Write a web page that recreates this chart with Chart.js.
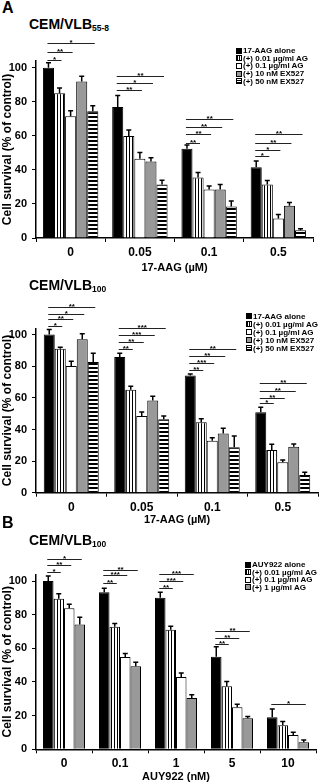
<!DOCTYPE html>
<html>
<head>
<meta charset="utf-8">
<script src="https://cdn.jsdelivr.net/npm/chart.js@4.4.0/dist/chart.umd.min.js"></script>
<style>
body { margin: 0; width: 320px; height: 784px; position: relative; background: #fff; overflow: hidden;
  font-family: 'Liberation Sans', Arial, sans-serif; font-weight: bold; color: #000; }
.box { position: absolute; left: 0; width: 320px; }
canvas { display: block; }
.txt { position: absolute; white-space: nowrap; line-height: 1; }
.panel { font-size: 16px; }
.title { font-size: 14px; }
.title span { font-size: 8.5px; vertical-align: -2px; }
.legend { position: absolute; font-size: 8px; }
.legend .row { display: flex; align-items: center; white-space: nowrap; }
.sw { width: 6px; height: 6px; box-sizing: border-box; border: 1px solid #000; margin-right: 1px; }
.sw.k { background: #000; }
.sw.v { background: repeating-linear-gradient(90deg, #000 0 1px, #fff 1px 2px); }
.sw.w { background: #fff; }
.sw.g { background: #999; }
.sw.h { background: repeating-linear-gradient(0deg, #000 0 1px, #fff 1px 2px); }
</style>
</head>
<body>
<div class="txt panel" style="left:2px;top:0px">A</div>
<div class="txt title" style="left:29px;top:17px">CEM/VLB<span>55-8</span></div>
<div class="box" style="top:0;height:280px"><canvas id="c1" width="320" height="280"></canvas></div>
<div class="legend" id="leg1" style="left:236px;top:47px"></div>

<div class="txt title" style="left:29px;top:278px">CEM/VLB<span>100</span></div>
<div class="box" style="top:275px;height:255px"><canvas id="c2" width="320" height="255"></canvas></div>
<div class="legend" id="leg2" style="left:246px;top:312px"></div>

<div class="txt panel" style="left:2px;top:515px">B</div>
<div class="txt title" style="left:29px;top:533px">CEM/VLB<span>100</span></div>
<div class="box" style="top:530px;height:254px"><canvas id="c3" width="320" height="254"></canvas></div>
<div class="legend" id="leg3" style="left:245px;top:561px"></div>

<script>
// categories
const doseAAG = ['0', '0.05', '0.1', '0.5'];
const doseAUY = ['0', '0.1', '1', '5', '10'];
const seriesAAG = ['17-AAG alone', '(+) 0.01 µg/ml AG', '(+) 0.1 µg/ml AG', '(+) 10 nM EX527', '(+) 50 nM EX527'];
const seriesAUY = ['AUY922 alone', '(+) 0.01 µg/ml AG', '(+) 0.1 µg/ml AG', '(+) 1 µg/ml AG'];
const yTicks = [0, 20, 40, 60, 80, 100];

// CEM/VLB55-8, 17-AAG
const vlb55Alone = [100, 77, 52.5, 41.5];
const vlb55Ag001 = [85, 60, 35.5, 31.5];
const vlb55Ag01 = [71.5, 46.5, 28.5, 11.5];
const vlb55Ex10 = [92, 45, 28.5, 19];
const vlb55Ex50 = [74.5, 31.5, 18.5, 4.5];
const vlb55AloneErr = [3, 6.8, 2.2, 3.8];
const vlb55Ag001Err = [3.2, 3.5, 3, 2.3];
const vlb55Ag01Err = [3.3, 3.7, 2, 2.3];
const vlb55Ex10Err = [3, 2.2, 3, 1.9];
const vlb55Ex50Err = [3.2, 2.5, 3.3, 1];
// [dose index, compared series, bracket level, stars]
const vlb55Sig = [
  [0, 1, 104.3, '*'], [0, 2, 109, '**'], [0, 4, 114.3, '*'],
  [1, 2, 87.2, '**'], [1, 3, 91.1, '*'], [1, 4, 95, '**'],
  [2, 1, 56, '**'], [2, 2, 61, '**'], [2, 3, 65.5, '**'], [2, 4, 70, '**'],
  [3, 1, 48.4, '*'], [3, 2, 51.8, '*'], [3, 3, 55.7, '**'], [3, 4, 61, '**']
];

// CEM/VLB100, 17-AAG
const vlb100Alone = [100, 85.8, 74.1, 50.9];
const vlb100Ag001 = [91.1, 65.2, 44.5, 27];
const vlb100Ag01 = [80.1, 48.5, 32.8, 19.2];
const vlb100Ex10 = [97, 58.4, 37.5, 29.1];
const vlb100Ex50 = [82.7, 46.4, 28.7, 11.2];
const vlb100AloneErr = [3.2, 2.4, 1, 3.1];
const vlb100Ag001Err = [0.9, 2.1, 2.3, 3.6];
const vlb100Ag01Err = [3, 2.5, 2, 1.5];
const vlb100Ex10Err = [3.6, 2.6, 3.2, 1.7];
const vlb100Ex50Err = [5.5, 2.1, 7.2, 1.7];
const vlb100Sig = [
  [0, 1, 105.7, '*'], [0, 2, 109.7, '**'], [0, 3, 113.3, '*'], [0, 4, 117.7, '**'],
  [1, 1, 91.1, '**'], [1, 2, 95.6, '**'], [1, 3, 100, '***'], [1, 4, 104.4, '***'],
  [2, 1, 77.7, '**'], [2, 2, 82.3, '***'], [2, 3, 86.5, '**'], [2, 4, 91.1, '**'],
  [3, 1, 56.6, '*'], [3, 2, 60.1, '**'], [3, 3, 64.6, '**'], [3, 4, 69.2, '**']
];

// CEM/VLB100, AUY922
const auyAlone = [100, 93.4, 90, 55, 19];
const auyAg001 = [89.5, 72.8, 71.1, 37.5, 14.3];
const auyAg01 = [83.8, 54.9, 43, 25, 8.5];
const auyAg1 = [74.2, 49.3, 30.5, 18.5, 4.2];
const auyAloneErr = [3, 2.3, 3.4, 5.9, 4.9];
const auyAg001Err = [3, 2, 2, 2.8, 2.2];
const auyAg01Err = [2.4, 2, 2.3, 1.8, 1.6];
const auyAg1Err = [4.3, 2.4, 1.9, 1, 1.3];
const auySig = [
  [0, 1, 105.6, '*'], [0, 2, 109.4, '**'], [0, 3, 113.3, '*'],
  [1, 1, 99, '**'], [1, 2, 103.3, '***'], [1, 3, 106.3, '**'],
  [2, 1, 95.6, '**'], [2, 2, 99.9, '***'], [2, 3, 103.9, '***'],
  [3, 1, 62.4, '**'], [3, 2, 66.4, '**'], [3, 3, 70.2, '**'],
  [4, 3, 26.9, '*']
];

const FONT = "'Liberation Sans', Arial, sans-serif";

function stripes(vertical) {
  const c = document.createElement('canvas');
  c.width = vertical ? 3 : 1;
  c.height = vertical ? 1 : 4;
  const g = c.getContext('2d');
  g.fillStyle = '#fff';
  g.fillRect(0, 0, c.width, c.height);
  g.fillStyle = '#000';
  if (vertical) g.fillRect(0, 0, 1, 1);
  else g.fillRect(0, 0, 1, 2);
  return g.createPattern(c, 'repeat');
}

const fills = ['#000', stripes(true), '#fff', '#999', stripes(false)];
const swatchCls = ['k', 'v', 'w', 'g', 'h'];

// error bars (upper only) and significance brackets
function marks(sig) {
  return {
    id: 'marks',
    afterDatasetsDraw(chart) {
      const ctx = chart.ctx;
      const y = chart.scales.y;
      ctx.save();
      ctx.strokeStyle = '#000';
      ctx.lineWidth = 1.5;
      chart.data.datasets.forEach((ds, i) => {
        chart.getDatasetMeta(i).data.forEach((bar, j) => {
          const top = y.getPixelForValue(ds.data[j] + ds.errors[j]);
          ctx.beginPath();
          ctx.moveTo(bar.x, bar.y);
          ctx.lineTo(bar.x, top);
          ctx.moveTo(bar.x - 2.5, top);
          ctx.lineTo(bar.x + 2.5, top);
          ctx.stroke();
        });
      });
      ctx.lineWidth = 1;
      ctx.strokeStyle = '#222';
      ctx.fillStyle = '#000';
      ctx.font = 'bold 8px ' + FONT;
      ctx.textAlign = 'center';
      ctx.textBaseline = 'alphabetic';
      sig.forEach(([g, to, level, label]) => {
        const a = chart.getDatasetMeta(0).data[g];
        const b = chart.getDatasetMeta(to).data[g];
        const py = Math.round(y.getPixelForValue(level)) + 0.5;
        const x1 = a.x - 1, x2 = b.x + 2;
        ctx.beginPath();
        ctx.moveTo(x1, py);
        ctx.lineTo(x2, py);
        ctx.stroke();
        ctx.fillText(label, (x1 + x2) / 2, py + 1.5);
      });
      ctx.restore();
    }
  };
}

function makeChart(id, labels, names, values, errors, sig, xTitle, lay) {
  const datasets = names.map((n, i) => ({
    label: n,
    data: values[i],
    errors: errors[i],
    backgroundColor: fills[i],
    borderColor: '#000',
    borderWidth: 1,
    categoryPercentage: lay.cat,
    barPercentage: 1
  }));
  return new Chart(document.getElementById(id), {
    type: 'bar',
    data: { labels: labels, datasets: datasets },
    plugins: [marks(sig)],
    options: {
      responsive: false,
      animation: false,
      layout: { padding: { top: lay.top, right: lay.right, left: 0, bottom: 0 } },
      plugins: { legend: { display: false }, tooltip: { enabled: false } },
      scales: {
        x: {
          afterFit(s) { s.height = lay.xh; },
          border: { display: true, color: '#000', width: 1.5 },
          grid: { display: true, drawOnChartArea: false, drawTicks: true, tickLength: 4, color: '#000' },
          ticks: { color: '#000', padding: lay.tp, font: { family: FONT, size: 12, weight: 'bold' } },
          title: { display: true, text: xTitle, color: '#000', padding: { top: 0, bottom: lay.tb },
            font: { family: FONT, size: 11, weight: 'bold' } }
        },
        y: {
          min: 0,
          max: 104,
          afterFit(s) { s.width = 36; },
          afterBuildTicks(s) { s.ticks = yTicks.map(v => ({ value: v })); },
          border: { display: true, color: '#000', width: 1.5 },
          grid: { display: true, drawOnChartArea: false, drawTicks: true, tickLength: 4, color: '#000' },
          ticks: { color: '#000', padding: 5, font: { family: FONT, size: 11, weight: 'bold' } },
          title: { display: true, text: 'Cell survival (% of control)', color: '#000', padding: { top: 0, bottom: 0 },
            font: { family: FONT, size: 12, weight: 'bold' } }
        }
      }
    }
  });
}

function makeLegend(id, names, rowH) {
  const el = document.getElementById(id);
  names.forEach((n, i) => {
    const row = document.createElement('div');
    row.className = 'row';
    row.style.height = rowH + 'px';
    const sw = document.createElement('div');
    sw.className = 'sw ' + swatchCls[i];
    const t = document.createElement('span');
    t.textContent = n;
    row.appendChild(sw);
    row.appendChild(t);
    el.appendChild(row);
  });
}

makeChart('c1', doseAAG, seriesAAG,
  [vlb55Alone, vlb55Ag001, vlb55Ag01, vlb55Ex10, vlb55Ex50],
  [vlb55AloneErr, vlb55Ag001Err, vlb55Ag01Err, vlb55Ex10Err, vlb55Ex50Err],
  vlb55Sig, '17-AAG (µM)', { top: 61, right: 7, xh: 42, tp: 3, tb: 5.4, cat: 0.8 });

makeChart('c2', doseAAG, seriesAAG,
  [vlb100Alone, vlb100Ag001, vlb100Ag01, vlb100Ex10, vlb100Ex50],
  [vlb100AloneErr, vlb100Ag001Err, vlb100Ag01Err, vlb100Ex10Err, vlb100Ex50Err],
  vlb100Sig, '17-AAG (µM)', { top: 53.3, right: 2, xh: 37.3, tp: 4, tb: 3.4, cat: 0.78 });

makeChart('c3', doseAUY, seriesAUY,
  [auyAlone, auyAg001, auyAg01, auyAg1],
  [auyAloneErr, auyAg001Err, auyAg01Err, auyAg1Err],
  auySig, 'AUY922 (nM)', { top: 44.3, right: 4, xh: 34.7, tp: 3.4, tb: 0.7, cat: 0.75 });

makeLegend('leg1', seriesAAG, 7.6);
makeLegend('leg2', seriesAAG, 8);
makeLegend('leg3', seriesAUY, 7.5);
</script>
</body>
</html>
